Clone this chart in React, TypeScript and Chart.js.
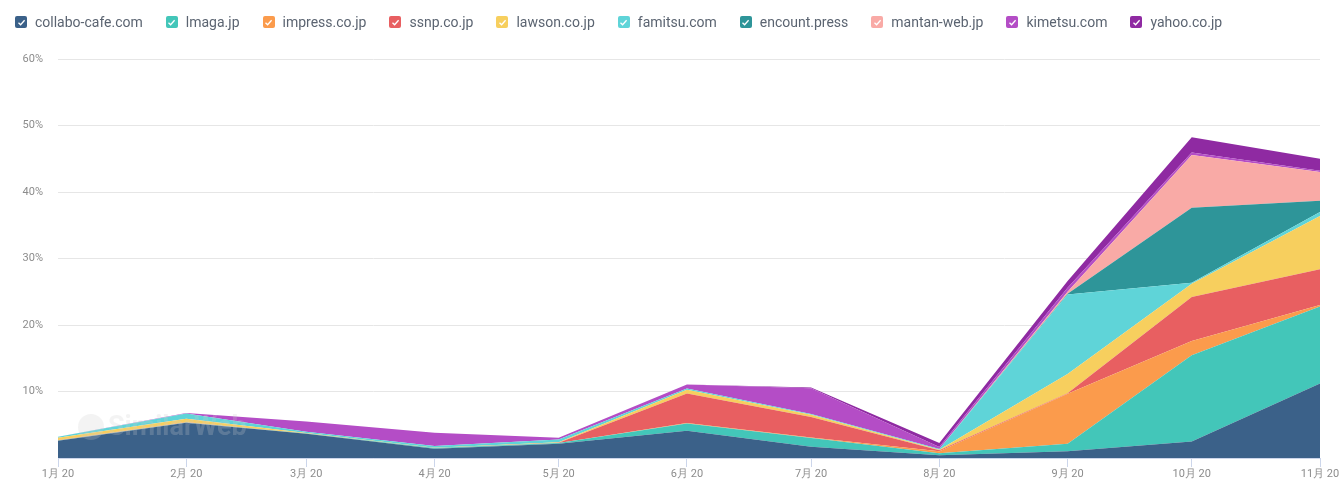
import React, { useEffect, useRef } from "react";
import { Chart, registerables } from "chart.js";

Chart.register(...registerables);

// Day offsets (2020) of the first day of each month, Jan..Nov
const monthStarts = [0, 31, 60, 91, 121, 152, 182, 213, 244, 274, 305];
const monthLabels = ["1月 20", "2月 20", "3月 20", "4月 20", "5月 20", "6月 20", "7月 20", "8月 20", "9月 20", "10月 20", "11月 20"];

const yTicks = [0, 10, 20, 30, 40, 50, 60];

const seriesNames = ["collabo-cafe.com", "lmaga.jp", "impress.co.jp", "ssnp.co.jp", "lawson.co.jp", "famitsu.com", "encount.press", "mantan-web.jp", "kimetsu.com", "yahoo.co.jp"];
const seriesColors = ["#3b6189", "#43c6b9", "#fb9b4c", "#e85f61", "#f7cf5e", "#5fd4d8", "#2e9599", "#f9aaa6", "#b44dc6", "#8f2aa2"];

const collabo = [2.6, 5.3, 3.65, 1.4, 2.15, 4.1, 1.7, 0.4, 1.0, 2.5, 11.2];
const lmaga = [0.05, 0.05, 0.05, 0.1, 0.1, 1.1, 1.3, 0.3, 1.15, 12.95, 11.6];
const impress = [0.05, 0.05, 0, 0, 0, 0.05, 0.1, 0.3, 7.5, 2.15, 0.2];
const ssnp = [0, 0, 0, 0, 0.05, 4.45, 3.05, 0.15, 0.1, 6.6, 5.4];
const lawson = [0.35, 0.5, 0.05, 0.05, 0.05, 0.55, 0.35, 0.1, 2.9, 2.0, 8.0];
const famitsu = [0.15, 0.8, 0.2, 0.25, 0.45, 0.2, 0.1, 0.1, 11.95, 0.15, 0.6];
const encount = [0, 0, 0, 0, 0, 0, 0, 0, 0.1, 11.3, 1.7];
const mantan = [0, 0, 0, 0, 0, 0, 0, 0, 0.3, 7.9, 4.3];
const kimetsu = [0, 0.05, 1.55, 2.0, 0.25, 0.6, 3.9, 0.3, 0.6, 0.4, 0.2];
const yahoo = [0, 0, 0, 0, 0, 0, 0.1, 0.6, 1.0, 2.3, 1.8];

const seriesValues = [collabo, lmaga, impress, ssnp, lawson, famitsu, encount, mantan, kimetsu, yahoo];

const watermarkPlugin = {
  id: "watermark",
  afterDatasetsDraw(chart: any) {
    const ctx = chart.ctx;
    ctx.save();
    ctx.fillStyle = "rgba(205,205,205,0.24)";
    ctx.beginPath();
    ctx.arc(91, 427, 13, 0, Math.PI * 2);
    ctx.fill();
    ctx.font = "bold 27px Roboto";
    ctx.textBaseline = "middle";
    ctx.fillText("SimilarWeb", 108, 428);
    ctx.restore();
  },
};

function Legend() {
  return (
    <div
      style={{
        position: "absolute",
        top: 13,
        left: 15,
        display: "flex",
        alignItems: "center",
        fontFamily: "Roboto, sans-serif",
        fontSize: 14,
        lineHeight: "18px",
        color: "#5b6471",
        whiteSpace: "nowrap",
      }}
    >
      {seriesNames.map((name, i) => (
        <div key={name} style={{ display: "flex", alignItems: "center", marginRight: 23 }}>
          <span
            style={{
              width: 12,
              height: 12,
              borderRadius: 2,
              background: seriesColors[i],
              display: "inline-flex",
              alignItems: "center",
              justifyContent: "center",
              marginRight: 8,
            }}
          >
            <svg width="9" height="9" viewBox="0 0 9 9">
              <polyline points="1.5,4.8 3.6,6.8 7.6,2.2" fill="none" stroke="#fff" strokeWidth="1.3" />
            </svg>
          </span>
          <span>{name}</span>
        </div>
      ))}
    </div>
  );
}

export default function App() {
  const canvasRef = useRef<HTMLCanvasElement | null>(null);

  useEffect(() => {
    document.body.style.margin = "0";
    const canvas = canvasRef.current;
    if (!canvas) return;
    const datasets = seriesNames.map((name, i) => ({
      label: name,
      data: seriesValues[i].map((v, j) => ({ x: monthStarts[j], y: v })),
      backgroundColor: seriesColors[i],
      borderColor: seriesColors[i],
      borderWidth: 0,
      pointRadius: 0,
      pointHoverRadius: 0,
      tension: 0,
      fill: i === 0 ? "origin" : "-1",
    }));
    const chart = new Chart(canvas, {
      type: "line",
      data: { datasets },
      plugins: [watermarkPlugin],
      options: {
        animation: false,
        responsive: false,
        layout: { padding: { top: 59, right: 21, bottom: 0, left: 0 } },
        plugins: {
          legend: { display: false },
          tooltip: { enabled: false },
        },
        scales: {
          x: {
            type: "linear",
            min: monthStarts[0],
            max: monthStarts[monthStarts.length - 1],
            afterBuildTicks: (scale: any) => {
              scale.ticks = monthStarts.map((v) => ({ value: v }));
            },
            afterFit: (scale: any) => {
              scale.height = 43;
            },
            grid: {
              display: true,
              drawOnChartArea: false,
              drawTicks: true,
              tickLength: 9,
              color: "#ccd6eb",
            },
            border: { display: true, color: "#ccd6eb" },
            ticks: {
              autoSkip: false,
              maxRotation: 0,
              padding: 1,
              color: "#8c8c8c",
              font: { family: "Roboto", size: 11 },
              callback: (v: any) => {
                const idx = monthStarts.indexOf(Number(v));
                return idx >= 0 ? monthLabels[idx] : "";
              },
            },
          },
          y: {
            stacked: true,
            min: yTicks[0],
            max: yTicks[yTicks.length - 1],
            afterBuildTicks: (scale: any) => {
              scale.ticks = yTicks.map((v) => ({ value: v }));
            },
            afterFit: (scale: any) => {
              scale.width = 58;
            },
            grid: { color: "#e6e6e6", drawTicks: false },
            border: { display: false },
            ticks: {
              padding: 15,
              color: "#8c8c8c",
              font: { family: "Roboto", size: 11 },
              callback: (v: any) => (Number(v) === 0 ? "" : v + "%"),
            },
          },
        },
      },
    });
    return () => chart.destroy();
  }, []);

  return (
    <div style={{ position: "relative", width: 1341, height: 501, background: "#fff" }}>
      <canvas ref={canvasRef} width={1341} height={501} style={{ position: "absolute", top: 0, left: 0 }} />
      <Legend />
    </div>
  );
}
